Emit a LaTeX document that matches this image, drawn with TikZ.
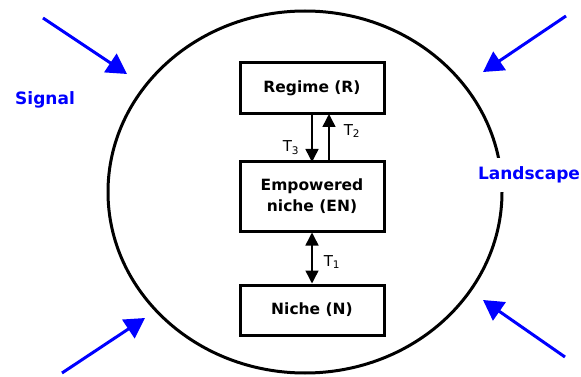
\documentclass[tikz,border=0pt]{standalone}
\usepackage{fontspec}
\setmainfont{DejaVu Sans}
\usetikzlibrary{arrows.meta}
\begin{document}
\begin{tikzpicture}[x=1pt,y=-1pt,
  box/.style={draw,line width=3pt,minimum width=144pt,align=center,font=\bfseries\fontsize{15.5}{21}\selectfont,inner sep=0pt},
  conn/.style={line width=1.5pt,-{Triangle[length=13pt,width=13pt]}},
  blue arrow/.style={draw=blue,line width=3pt,-{Triangle[length=20pt,width=22pt]}},
  lbl/.style={font=\bfseries\fontsize{17}{20}\selectfont,text=blue},
  tlbl/.style={font=\fontsize{15}{17}\selectfont}]
\useasboundingbox (0,0) rectangle (581,377);
\draw[line width=3pt] (305,192) ellipse [x radius=197, y radius=181];
\node[box,minimum height=51pt] (R) at (312,88.5) {Regime (R)};
\node[box,minimum height=69pt] (EN) at (312,196.5) {Empowered\\niche (EN)};
\node[box,minimum height=50pt] (N) at (312,310) {Niche (N)};
\coordinate (r3) at (312,114);
\coordinate (e3) at (312,162);
\coordinate (r2) at (329,114);
\coordinate (e2) at (329,162);
\draw[conn] (r3) -- (e3);
\draw[conn] (e2) -- (r2);
\draw[line width=1.5pt,{Triangle[length=13pt,width=13pt]}-{Triangle[length=13pt,width=13pt]}] (EN.south) -- (N.north);
\node[tlbl] (t3) at (291,148) {T\textsubscript{3}};
\node[tlbl] (t2) at (352,131) {T\textsubscript{2}};
\node[tlbl] (t1) at (332,262) {T\textsubscript{1}};
\node[lbl] (sig) at (45,100) {Signal};
\node[lbl,fill=white,inner xsep=1pt,inner ysep=9pt] (land) at (529,175) {Landscape};
\coordinate (a1s) at (43,18); \coordinate (a1e) at (127,74);
\coordinate (a2s) at (566,16); \coordinate (a2e) at (483,72);
\coordinate (a3s) at (62,373); \coordinate (a3e) at (145,318);
\coordinate (a4s) at (565,357); \coordinate (a4e) at (483,300);
\draw[blue arrow] (a1s) -- (a1e);
\draw[blue arrow] (a2s) -- (a2e);
\draw[blue arrow] (a3s) -- (a3e);
\draw[blue arrow] (a4s) -- (a4e);
\end{tikzpicture}
\end{document}
